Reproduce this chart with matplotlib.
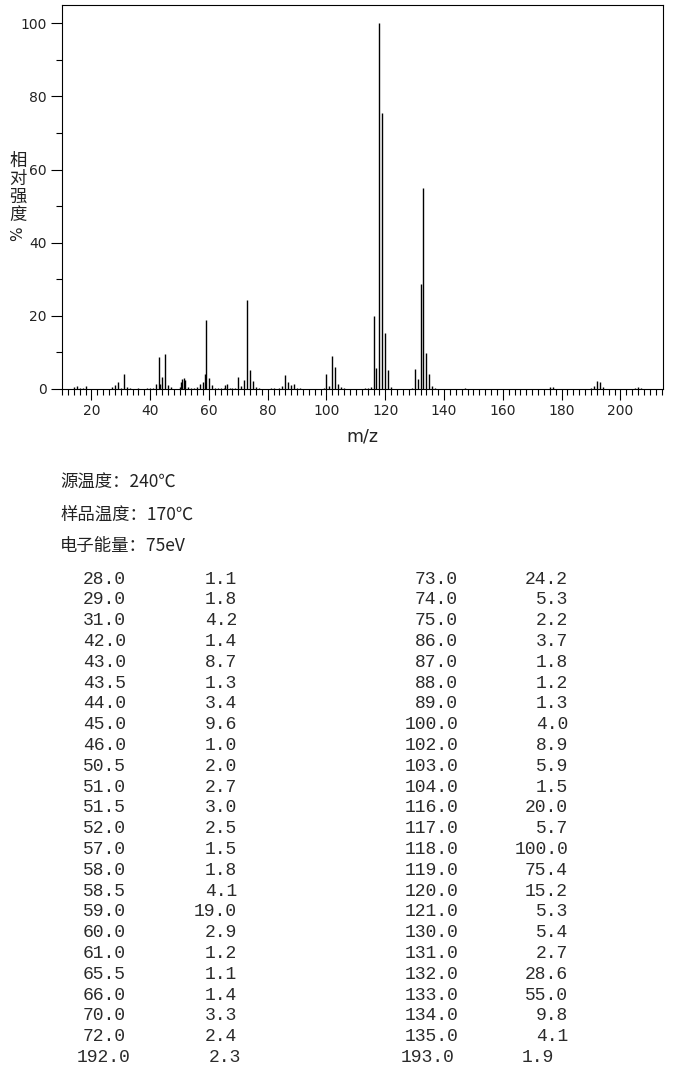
import matplotlib
matplotlib.use("Agg")
import matplotlib.pyplot as plt
from matplotlib.ticker import MultipleLocator

# ---- data: peak table (m/z, relative intensity %) ----
left_mz = [28.0, 29.0, 31.0, 42.0, 43.0, 43.5, 44.0, 45.0, 46.0, 50.5, 51.0, 51.5,
           52.0, 57.0, 58.0, 58.5, 59.0, 60.0, 61.0, 65.5, 66.0, 70.0, 72.0]
left_int = [1.1, 1.8, 4.2, 1.4, 8.7, 1.3, 3.4, 9.6, 1.0, 2.0, 2.7, 3.0,
            2.5, 1.5, 1.8, 4.1, 19.0, 2.9, 1.2, 1.1, 1.4, 3.3, 2.4]
right_mz = [73.0, 74.0, 75.0, 86.0, 87.0, 88.0, 89.0, 100.0, 102.0, 103.0, 104.0, 116.0,
            117.0, 118.0, 119.0, 120.0, 121.0, 130.0, 131.0, 132.0, 133.0, 134.0, 135.0]
right_int = [24.2, 5.3, 2.2, 3.7, 1.8, 1.2, 1.3, 4.0, 8.9, 5.9, 1.5, 20.0,
             5.7, 100.0, 75.4, 15.2, 5.3, 5.4, 2.7, 28.6, 55.0, 9.8, 4.1]
last_mz = [192.0, 193.0]
last_int = [2.3, 1.9]

# ---- small peaks (<1 %) estimated from the spectrum ----
minor_mz = [14, 15, 16, 17, 18, 27, 30, 32, 33, 36, 39, 40, 41, 47, 50, 53, 54, 55, 56,
            62, 63, 64, 65, 67, 68, 69, 71, 76, 77, 81, 82, 84, 85, 90, 91, 99, 101,
            105, 106, 113, 114, 115, 122, 129, 136, 137, 147, 176, 177, 190, 191, 194,
            205, 206, 207]
minor_int = [0.6, 0.8, 0.4, 0.3, 0.7, 0.5, 0.4, 0.5, 0.3, 0.2, 0.3, 0.4, 0.4, 0.5, 0.6,
             0.5, 0.4, 0.3, 0.5, 0.4, 0.3, 0.3, 0.3, 0.4, 0.2, 0.3, 0.8, 0.5, 0.3, 0.4,
             0.3, 0.4, 0.8, 0.4, 0.4, 0.3, 0.8, 0.5, 0.3, 0.3, 0.3, 0.5, 0.6, 0.3, 0.8,
             0.4, 0.4, 0.6, 0.5, 0.3, 0.8, 0.5, 0.3, 0.5, 0.4]

header_lines = ["源温度：240℃", "样品温度：170℃", "电子能量：75eV"]
ylabel_chars = ["相", "对", "强", "度"]
x_label = "m/z"
x_ticks = [20, 40, 60, 80, 100, 120, 140, 160, 180, 200]
x_ticklabels = ["20", "40", "60", "80", "100", "120", "140", "160", "180", "200"]

W, H = 680, 1077
fig = plt.figure(figsize=(W / 100, H / 100), dpi=100)


def fx(px):
    return px / W


def fy(py):
    return 1 - py / H


ax = fig.add_axes([fx(62), fy(389), fx(663) - fx(62), fy(5) - fy(389)])
mz_all = left_mz + right_mz + last_mz + minor_mz
int_all = left_int + right_int + last_int + minor_int
ax.vlines(mz_all, 0, int_all, colors="black", linewidth=1.0)
ax.set_xlim(10, 214.5)
ax.set_ylim(0, 105)
ax.xaxis.set_minor_locator(MultipleLocator(2))
ax.yaxis.set_major_locator(MultipleLocator(20))
ax.yaxis.set_minor_locator(MultipleLocator(10))
ax.set_xticks(x_ticks)
ax.set_xticklabels(x_ticklabels)
ax.tick_params(axis="both", which="major", direction="out", length=8, width=0.8,
               labelsize=10, labelcolor="#222222", pad=3)
ax.tick_params(axis="x", which="minor", direction="out", length=4, width=0.8)
ax.tick_params(axis="y", which="minor", direction="out", length=4, width=0.8)
for s in ax.spines.values():
    s.set_linewidth(0.8)

fig.text(fx(362), fy(437), x_label, fontsize=12.5, ha="center", va="center",
         color="#222222", family="DejaVu Sans")

cjk = ["Noto Sans CJK SC", "DejaVu Sans"]
for i, ch in enumerate(ylabel_chars):
    fig.text(fx(18), fy(161 + i * 18), ch, fontsize=12.5, ha="center", va="center",
             family=cjk, color="#222222")
fig.text(fx(18), fy(234), "%", fontsize=11, ha="center", va="center",
         rotation=90, family="DejaVu Sans", color="#222222")

for i, line in enumerate(header_lines):
    fig.text(fx(60), fy(483 + i * 31.5), line, fontsize=12.5, ha="left", va="center",
             family=cjk, color="#222222")

mono = "Liberation Mono"
tcol = "#2a2a2a"
row0, dy = 579, 20.8
for i in range(len(left_mz)):
    y = fy(row0 + i * dy)
    fig.text(fx(126), y, f"{left_mz[i]:.1f}", fontsize=13, ha="right", va="center",
             family=mono, color=tcol)
    fig.text(fx(237), y, f"{left_int[i]:.1f}", fontsize=13, ha="right", va="center",
             family=mono, color=tcol)
for i in range(len(right_mz)):
    y = fy(row0 + i * dy)
    fig.text(fx(458), y, f"{right_mz[i]:.1f}", fontsize=13, ha="right", va="center",
             family=mono, color=tcol)
    fig.text(fx(568), y, f"{right_int[i]:.1f}", fontsize=13, ha="right", va="center",
             family=mono, color=tcol)

ylast = fy(1058)
fig.text(fx(130), ylast, f"{last_mz[0]:.1f}", fontsize=13, ha="right", va="center",
         family=mono, color=tcol)
fig.text(fx(241), ylast, f"{last_int[0]:.1f}", fontsize=13, ha="right", va="center",
         family=mono, color=tcol)
fig.text(fx(454), ylast, f"{last_mz[1]:.1f}", fontsize=13, ha="right", va="center",
         family=mono, color=tcol)
fig.text(fx(554), ylast, f"{last_int[1]:.1f}", fontsize=13, ha="right", va="center",
         family=mono, color=tcol)

fig.savefig("out.png", dpi=100, facecolor="white")
